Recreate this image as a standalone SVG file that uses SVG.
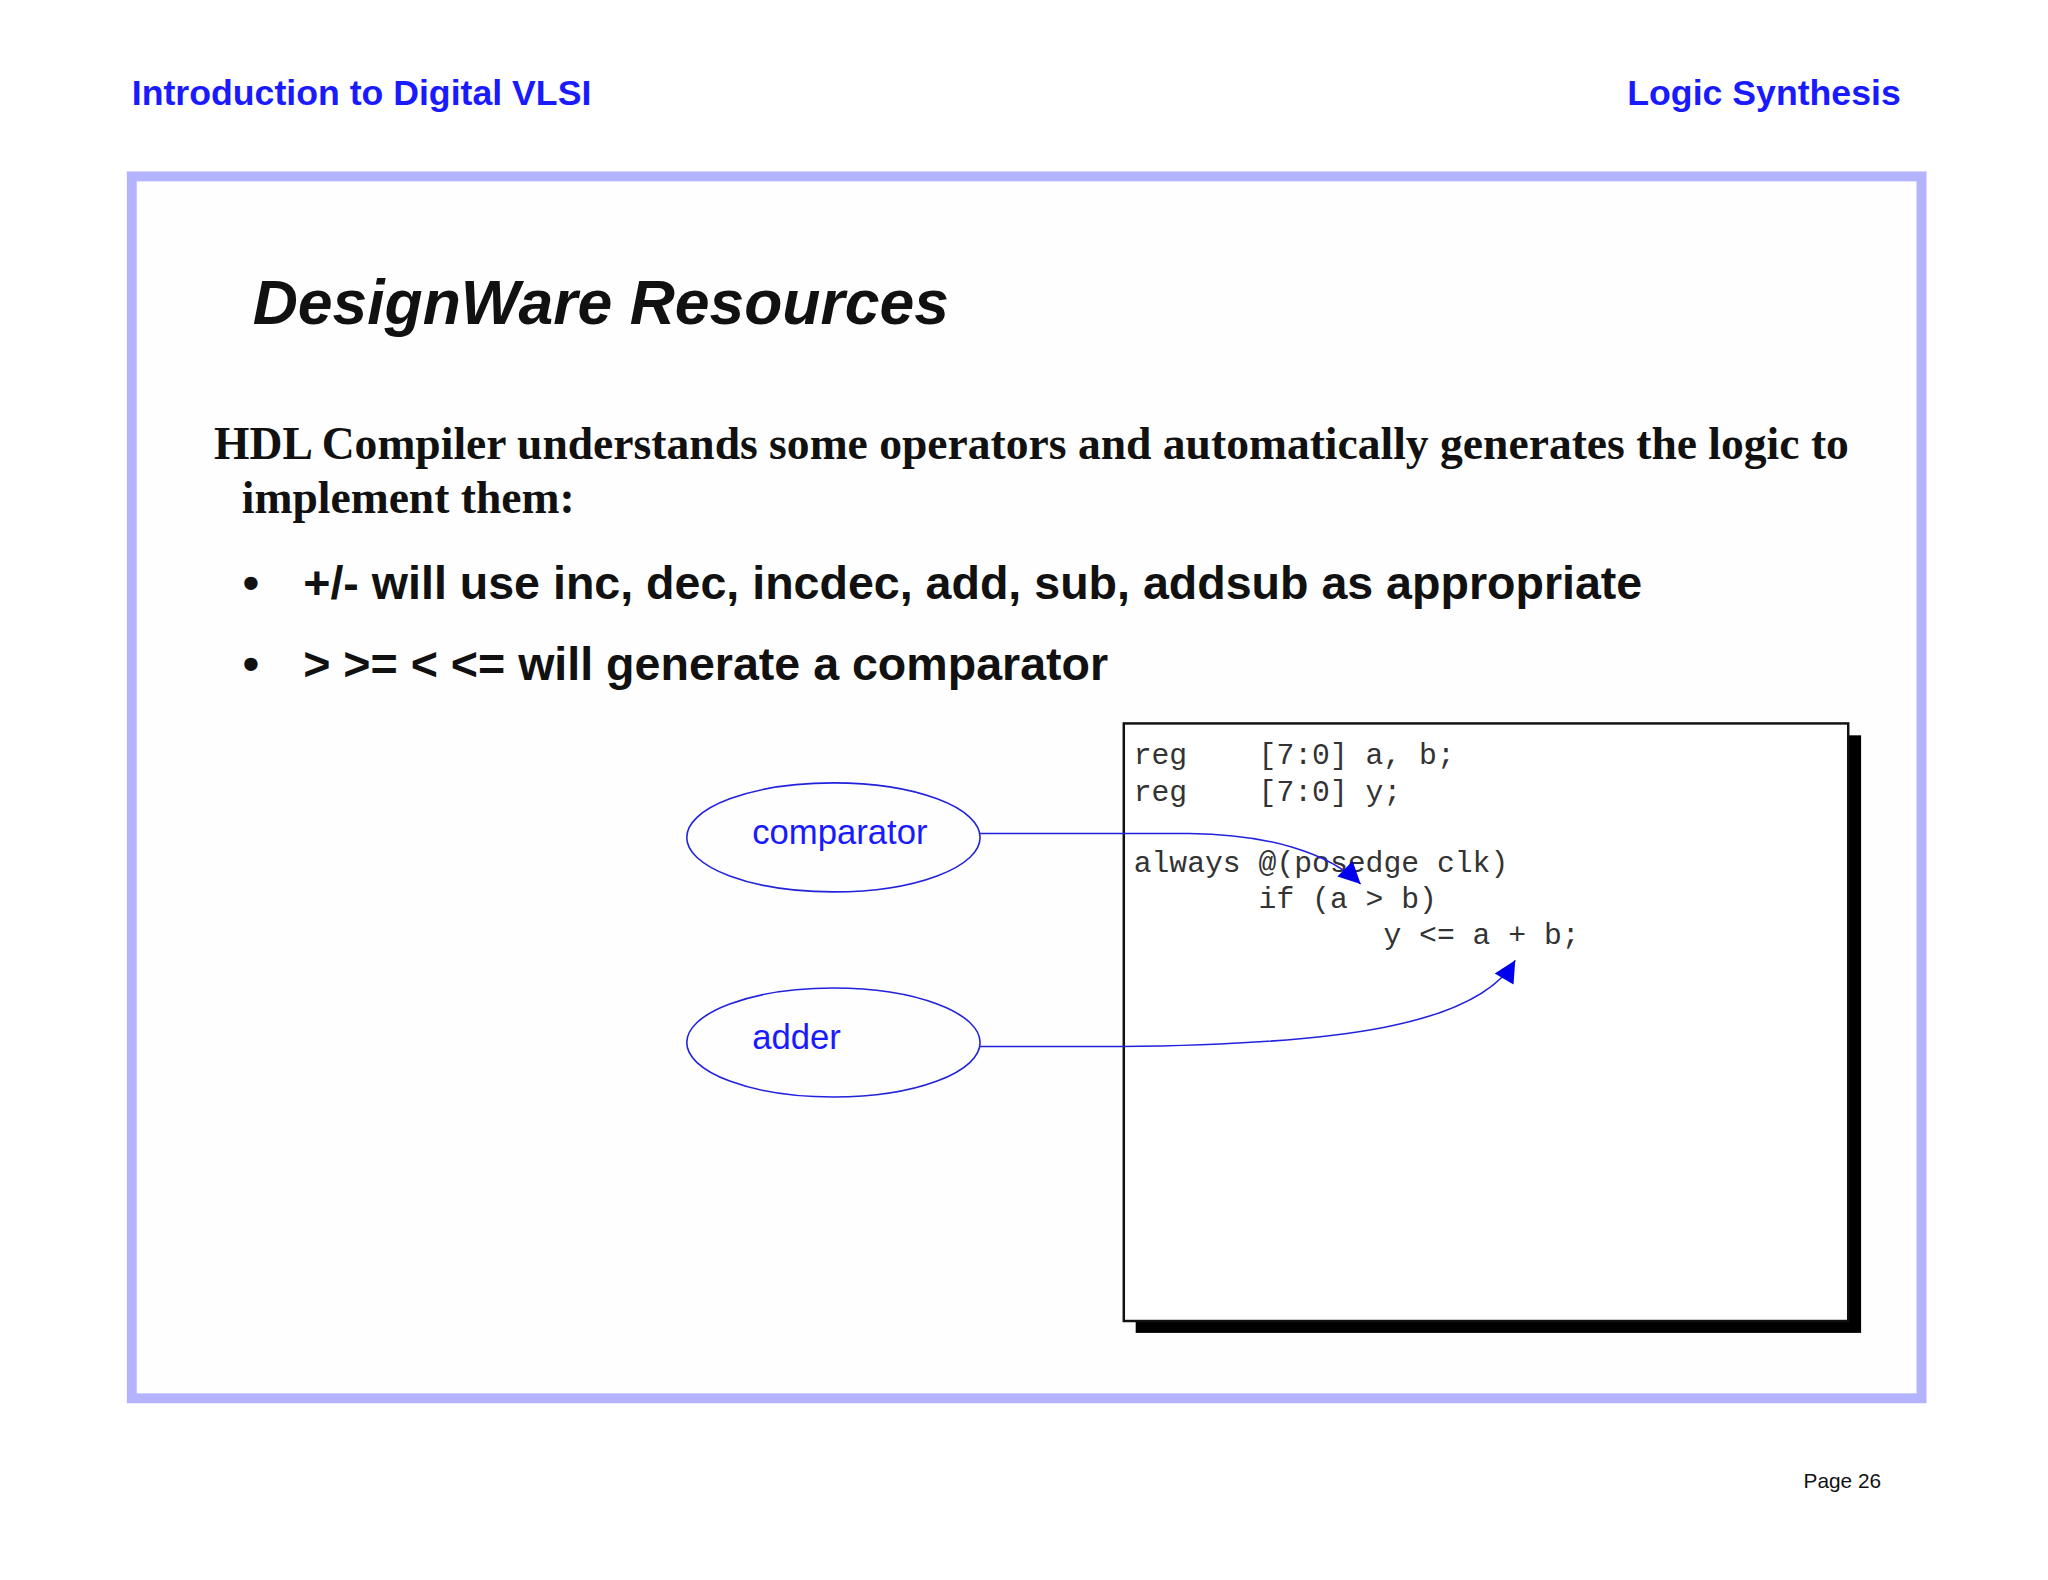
<svg xmlns="http://www.w3.org/2000/svg" width="2048" height="1580" viewBox="0 0 2048 1580">
<style>
.hdr{font-family:"Liberation Sans",Arial,sans-serif;font-weight:bold;font-size:36px;fill:#1a1aff}
.code{font-family:"Liberation Mono","Courier New",monospace;font-size:30px;fill:#333}
.lbl{font-family:"Liberation Sans",Arial,sans-serif;font-size:35px;fill:#1a1aff}
.bul{font-family:"Liberation Sans",Arial,sans-serif;font-weight:bold;font-size:47px;fill:#111}
.conn{fill:none;stroke:#2222dd;stroke-width:1.6}
</style>
<defs>
<marker id="ah" viewBox="0 0 10 10" refX="10" refY="5" markerWidth="32" markerHeight="22" markerUnits="userSpaceOnUse" orient="auto">
<path d="M0,0 L10,5 L0,10 z" fill="#0000ee"/>
</marker>
</defs>
<rect width="2048" height="1580" fill="#fff"/>
<g transform="scale(0.991)">
<text class="hdr" x="133" y="106">Introduction to Digital VLSI</text>
<text class="hdr" x="1918" y="106" text-anchor="end">Logic Synthesis</text>
<rect x="133" y="178" width="1806" height="1233" fill="#fdfefd" stroke="#b3b3ff" stroke-width="10"/>
<text x="255" y="327" font-family="Liberation Sans,Arial,sans-serif" font-weight="bold" font-style="italic" font-size="63" fill="#111">DesignWare Resources</text>
<text font-family="Liberation Serif,Times New Roman,serif" font-weight="bold" font-size="46" fill="#111"><tspan x="216" y="463">HDL Compiler understands some operators and automatically generates the logic to</tspan><tspan x="244" y="518">implement them:</tspan></text>
<text class="bul" x="245" y="604">•</text>
<text class="bul" x="306" y="604">+/- will use inc, dec, incdec, add, sub, addsub as appropriate</text>
<text class="bul" x="245" y="686">•</text>
<text class="bul" x="306" y="686">&gt; &gt;= &lt; &lt;= will generate a comparator</text>
<g id="codebox">
<rect x="1146" y="742" width="732" height="603" fill="#000"/>
<rect x="1134" y="730" width="731" height="603" fill="#fff" stroke="#111" stroke-width="2.5"/>
<text class="code" xml:space="preserve"><tspan x="1144" y="771">reg    [7:0] a, b;</tspan><tspan x="1144" y="808">reg    [7:0] y;</tspan><tspan x="1144" y="880">always @(posedge clk)</tspan><tspan x="1144" y="916">       if (a &gt; b)</tspan><tspan x="1144" y="953">              y &lt;= a + b;</tspan></text>
</g>
<g id="comparator">
<ellipse cx="841" cy="845" rx="148" ry="55" fill="none" stroke="#2222dd" stroke-width="1.6"/>
<text class="lbl" x="759" y="852">comparator</text>
</g>
<g id="adder">
<ellipse cx="841" cy="1052" rx="148" ry="55" fill="none" stroke="#2222dd" stroke-width="1.6"/>
<text class="lbl" x="759" y="1059">adder</text>
</g>
<g id="connectors">
<path class="conn" d="M989,841 L1200,841 C1280,842 1340,860 1373,892" marker-end="url(#ah)"/>
<path class="conn" d="M989,1056 L1130,1056 C1350,1054 1490,1035 1529,969" marker-end="url(#ah)"/>
</g>
<text x="1820" y="1502" font-family="Liberation Sans,Arial,sans-serif" font-size="21" fill="#111">Page 26</text>
</g>
</svg>
